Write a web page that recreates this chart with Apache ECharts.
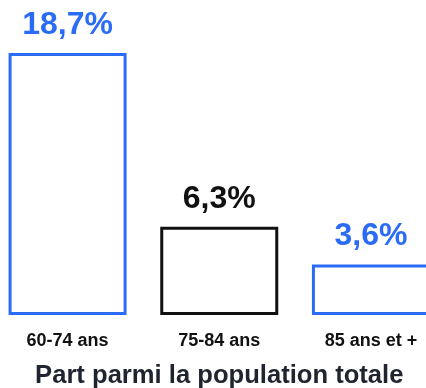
<!DOCTYPE html>
<html>
<head>
<meta charset="utf-8">
<script src="https://cdn.jsdelivr.net/npm/echarts@6/dist/echarts.min.js"></script>
<style>
html,body{margin:0;padding:0;background:#fff;}
#chart{width:426px;height:388px;}
</style>
</head>
<body>
<div id="chart"></div>
<script>
const categories = ['60-74 ans', '75-84 ans', '85 ans et +'];
const values = [18.7, 6.3, 3.6];
const valueLabels = ['18,7%', '6,3%', '3,6%'];
const axisTitle = 'Part parmi la population totale';

const barColors = ['#2a6cf6', '#111111', '#2a6cf6'];
const FONT = '"Liberation Sans", Arial, Helvetica, sans-serif';

const chart = echarts.init(document.getElementById('chart'), null, {renderer: 'canvas'});
chart.setOption({
  animation: false,
  backgroundColor: '#ffffff',
  grid: {left: -8.25, right: -20.75, top: 53, bottom: 73, containLabel: false, outerBoundsMode: 'none'},
  xAxis: {
    type: 'category',
    data: categories,
    axisLine: {show: false},
    axisTick: {show: false},
    axisLabel: {margin: 17, color: '#111111', fontFamily: FONT, fontWeight: 'bold', fontSize: 18},
    name: axisTitle,
    nameLocation: 'middle',
    nameGap: 48,
    nameTextStyle: {color: '#1f2430', fontFamily: FONT, fontWeight: 'bold', fontSize: 25.6}
  },
  yAxis: {type: 'value', min: 0, max: 18.7, show: false, splitLine: {show: false}},
  series: [{
    type: 'bar',
    barWidth: 118,
    data: values.map((v, i) => ({
      value: v,
      itemStyle: {color: '#ffffff', borderColor: barColors[i], borderWidth: 3},
      label: {color: barColors[i]}
    })),
    label: {
      show: true,
      position: 'top',
      distance: 12,
      fontFamily: FONT,
      fontWeight: 'bold',
      fontSize: 32,
      formatter: p => valueLabels[p.dataIndex]
    }
  }]
});
</script>
</body>
</html>
